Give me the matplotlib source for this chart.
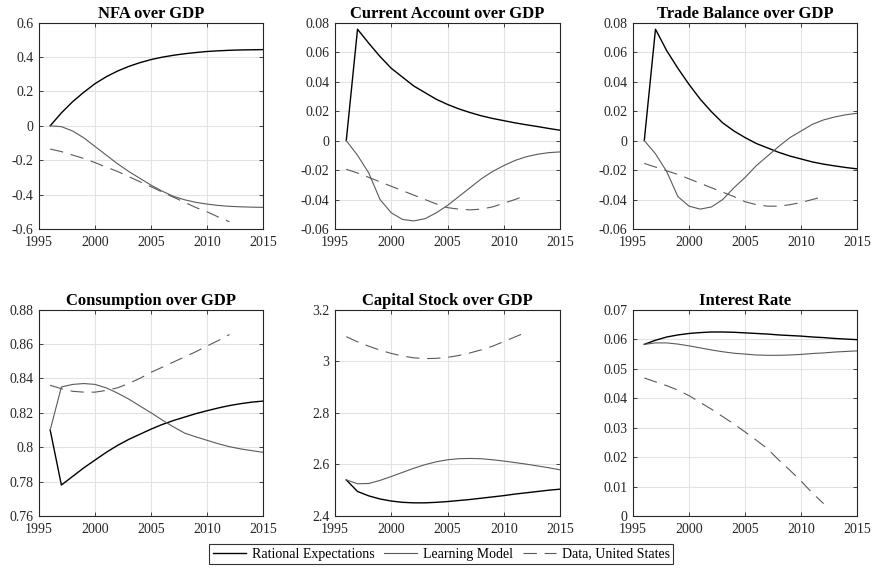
import numpy as np
import matplotlib
matplotlib.use('Agg')
from matplotlib import pyplot as plt

# years
years_model = list(range(1996, 2016))
years_data = list(range(1996, 2013))

# NFA over GDP
nfa_re = [0, 0.075, 0.14, 0.195, 0.245, 0.285, 0.318, 0.345, 0.367, 0.385,
          0.399, 0.41, 0.419, 0.426, 0.432, 0.436, 0.439, 0.441, 0.442, 0.443]
nfa_learn = [0, -0.005, -0.03, -0.07, -0.12, -0.17, -0.22, -0.265, -0.305, -0.345,
             -0.38, -0.41, -0.43, -0.445, -0.455, -0.463, -0.468, -0.471, -0.473, -0.474]
nfa_data = [-0.135, -0.15, -0.17, -0.19, -0.214, -0.24, -0.265, -0.295, -0.325,
            -0.354, -0.385, -0.415, -0.445, -0.475, -0.5, -0.53, -0.558]

# Current account over GDP
ca_re = [0, 0.0755, 0.066, 0.057, 0.049, 0.043, 0.037, 0.0325, 0.028, 0.0245,
         0.0215, 0.019, 0.0168, 0.015, 0.0135, 0.012, 0.0107, 0.0095, 0.0082, 0.007]
ca_learn = [0, -0.01, -0.022, -0.04, -0.049, -0.0535, -0.0545, -0.053, -0.049, -0.044,
            -0.038, -0.032, -0.026, -0.021, -0.017, -0.0135, -0.011, -0.0093, -0.0082, -0.0077]
ca_data = [-0.0195, -0.022, -0.025, -0.028, -0.031, -0.034, -0.037, -0.040, -0.043,
           -0.0455, -0.0465, -0.047, -0.0465, -0.045, -0.0425, -0.040, -0.037]

# Trade balance over GDP
tb_re = [0, 0.0755, 0.061, 0.049, 0.038, 0.028, 0.0195, 0.012, 0.0065, 0.002,
         -0.002, -0.005, -0.008, -0.0105, -0.0125, -0.0145, -0.016, -0.0172, -0.0183, -0.0192]
tb_learn = [0, -0.009, -0.021, -0.038, -0.0445, -0.0465, -0.045, -0.04, -0.032, -0.025,
            -0.017, -0.0105, -0.004, 0.002, 0.0065, 0.011, 0.014, 0.016, 0.0175, 0.0185]
tb_data = [-0.0155, -0.018, -0.0205, -0.023, -0.026, -0.029, -0.032, -0.035, -0.038,
           -0.0415, -0.0435, -0.0445, -0.0445, -0.0435, -0.042, -0.040, -0.038]

# Consumption over GDP
c_re = [0.81, 0.778, 0.783, 0.788, 0.7925, 0.797, 0.801, 0.8045, 0.8075, 0.8105,
        0.8132, 0.8155, 0.8175, 0.8195, 0.8212, 0.8228, 0.8242, 0.8253, 0.8262, 0.8268]
c_learn = [0.81, 0.835, 0.8365, 0.837, 0.8365, 0.8345, 0.8315, 0.828, 0.824, 0.82,
           0.8158, 0.8118, 0.8082, 0.806, 0.804, 0.802, 0.8003, 0.799, 0.798, 0.797]
c_data = [0.836, 0.834, 0.8325, 0.832, 0.832, 0.833, 0.8345, 0.837, 0.84, 0.8435,
          0.8465, 0.8495, 0.8525, 0.8555, 0.8588, 0.862, 0.8655]

# Capital stock over GDP
k_re = [2.54, 2.495, 2.478, 2.466, 2.458, 2.453, 2.451, 2.451, 2.453, 2.456,
        2.46, 2.464, 2.469, 2.474, 2.479, 2.485, 2.49, 2.495, 2.5, 2.504]
k_learn = [2.54, 2.525, 2.526, 2.538, 2.553, 2.569, 2.585, 2.599, 2.61, 2.618,
           2.622, 2.623, 2.622, 2.618, 2.613, 2.607, 2.601, 2.594, 2.587, 2.579]
k_data = [3.095, 3.075, 3.058, 3.043, 3.03, 3.02, 3.013, 3.01, 3.011, 3.015,
          3.022, 3.032, 3.044, 3.058, 3.076, 3.094, 3.112]

# Interest rate
r_re = [0.0582, 0.0596, 0.0607, 0.0614, 0.0619, 0.0622, 0.0624, 0.0624, 0.0623, 0.0621,
        0.0619, 0.0617, 0.0614, 0.0612, 0.061, 0.0607, 0.0605, 0.0602, 0.06, 0.0598]
r_learn = [0.0582, 0.0587, 0.0587, 0.0583, 0.0577, 0.057, 0.0563, 0.0557, 0.0552, 0.0549,
           0.0546, 0.0545, 0.0545, 0.0546, 0.0548, 0.0551, 0.0553, 0.0556, 0.0558, 0.056]
r_data = [0.0468, 0.0455, 0.0442, 0.0427, 0.0408, 0.0385, 0.0362, 0.0337, 0.0312,
          0.0285, 0.0257, 0.0228, 0.019, 0.0155, 0.0118, 0.0078, 0.0042]

titles = ['NFA over GDP', 'Current Account over GDP', 'Trade Balance over GDP',
          'Consumption over GDP', 'Capital Stock over GDP', 'Interest Rate']
yticks = [
    [-0.6, -0.4, -0.2, 0, 0.2, 0.4, 0.6],
    [-0.06, -0.04, -0.02, 0, 0.02, 0.04, 0.06, 0.08],
    [-0.06, -0.04, -0.02, 0, 0.02, 0.04, 0.06, 0.08],
    [0.76, 0.78, 0.8, 0.82, 0.84, 0.86, 0.88],
    [2.4, 2.6, 2.8, 3.0, 3.2],
    [0, 0.01, 0.02, 0.03, 0.04, 0.05, 0.06, 0.07],
]
series = [
    (nfa_re, nfa_learn, nfa_data),
    (ca_re, ca_learn, ca_data),
    (tb_re, tb_learn, tb_data),
    (c_re, c_learn, c_data),
    (k_re, k_learn, k_data),
    (r_re, r_learn, r_data),
]

plt.rcParams['font.family'] = ['Liberation Serif', 'DejaVu Serif']

fig = plt.figure(figsize=(8.72, 5.75), dpi=100)

lefts = [0.0447, 0.3842, 0.726]
bottoms = [0.6017, 0.1026]
widths = [0.257, 0.258, 0.257]
height = 0.359

dark = '#262626'
gray = '#5a5a5a'

for i in range(6):
    row, col = divmod(i, 3)
    ax = fig.add_axes([lefts[col], bottoms[row], widths[col], height])
    re_vals, learn_vals, data_vals = series[i]
    l1, = ax.plot(years_model, re_vals, color='black', lw=1.0, label='Rational Expectations')
    l2, = ax.plot(years_model, learn_vals, color=gray, lw=0.8, label='Learning Model')
    l3, = ax.plot(years_data, data_vals, color=gray, lw=0.8, ls=(0, (12, 7)),
                  label='Data, United States')
    ax.set_xlim(1995, 2015)
    ax.set_xticks([1995, 2000, 2005, 2010, 2015])
    ax.set_ylim(yticks[i][0], yticks[i][-1])
    ax.set_yticks(yticks[i])
    ax.set_yticklabels(['%g' % v for v in yticks[i]])
    ax.grid(True, color='#e3e3e3', lw=0.8)
    ax.set_axisbelow(True)
    ax.tick_params(direction='in', length=3, width=0.6, colors=dark, labelsize=10,
                   top=True, right=True)
    ax.tick_params(axis='x', pad=5)
    ax.tick_params(axis='y', pad=4)
    for s in ax.spines.values():
        s.set_color(dark)
        s.set_linewidth(0.8)
    ax.set_title(titles[i], fontsize=12, fontweight='bold', pad=3)

leg = fig.legend(handles=[l1, l2, l3], loc='center', bbox_to_anchor=(0.506, 0.0365),
                 ncol=3, fontsize=10, frameon=True, fancybox=False, edgecolor='black',
                 handlelength=2.4, handletextpad=0.4, columnspacing=0.7,
                 borderpad=0.25, borderaxespad=0)
leg.get_frame().set_linewidth(0.8)

plt.savefig('out.png', dpi=100)
